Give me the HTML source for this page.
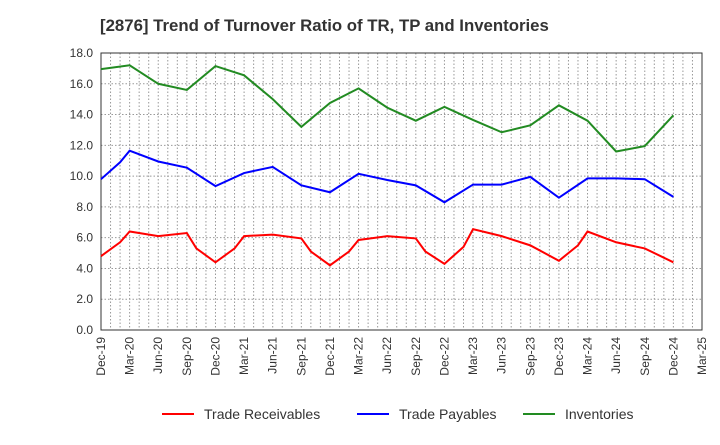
<!DOCTYPE html>
<html><head><meta charset="utf-8"><style>
body{margin:0;background:#fff;font-family:"Liberation Sans",sans-serif}
</style></head><body>
<svg id="chart" width="720" height="440" xmlns="http://www.w3.org/2000/svg" font-family="Liberation Sans, sans-serif">
<text x="100" y="31" font-size="16.8" font-weight="bold" fill="#333">[2876]  Trend of Turnover Ratio of TR, TP and Inventories</text>
<g id="grid"></g><g id="axes"></g><g id="series"></g><g id="legend"></g>
</svg>
<script>
const xLabels=["Dec-19","Mar-20","Jun-20","Sep-20","Dec-20","Mar-21","Jun-21","Sep-21","Dec-21","Mar-22","Jun-22","Sep-22","Dec-22","Mar-23","Jun-23","Sep-23","Dec-23","Mar-24","Jun-24","Sep-24","Dec-24","Mar-25"];
const yTicks=[0,2,4,6,8,10,12,14,16,18];
const trMonths=[0,2,3,6,9,10,12,14,15,18,21,22,24,26,27,30,33,34,36,38,39,42,45,48,50,51,54,57,60];
const trValues=[4.8,5.7,6.4,6.1,6.3,5.3,4.4,5.3,6.1,6.2,5.95,5.1,4.2,5.1,5.85,6.1,5.95,5.1,4.3,5.4,6.55,6.1,5.5,4.5,5.5,6.4,5.7,5.3,4.4];
const tpMonths=[0,2,3,6,9,12,15,18,21,24,27,30,33,36,39,42,45,48,51,54,57,60];
const tpValues=[9.8,10.9,11.65,10.95,10.55,9.35,10.2,10.6,9.4,8.95,10.15,9.75,9.4,8.3,9.45,9.45,9.95,8.6,9.85,9.85,9.8,8.65];
const invMonths=[0,3,6,9,12,15,18,21,24,27,30,33,36,39,42,45,48,51,54,57,60];
const invValues=[16.95,17.2,16.0,15.6,17.15,16.55,15.0,13.2,14.75,15.7,14.45,13.6,14.5,13.65,12.85,13.3,14.6,13.6,11.6,11.95,13.95];
const L=101,R=702,T=53,B=330,NM=63,YMAX=18;
const xs=m=>L+(R-L)*m/NM, ys=v=>B-(B-T)*v/YMAX;
const NS="http://www.w3.org/2000/svg";
function mk(t,a,p){const e=document.createElementNS(NS,t);for(const k in a)e.setAttribute(k,a[k]);p.appendChild(e);return e;}
const grid=document.getElementById('grid'),axes=document.getElementById('axes'),ser=document.getElementById('series'),leg=document.getElementById('legend');
for(let m=1;m<NM;m++){const l=mk('line',{x1:xs(m),x2:xs(m),y1:T,y2:B,stroke:'#999','stroke-dasharray':'1.5,2','stroke-width':1},grid);

}
yTicks.forEach(v=>{if(v>0&&v<YMAX){const l=mk('line',{x1:L,x2:R,y1:ys(v),y2:ys(v),stroke:'#999','stroke-dasharray':'1.5,2','stroke-width':1},grid);

}
const t=mk('text',{x:L-8,y:ys(v)+4,'text-anchor':'end','font-size':12,fill:'#333'},axes);t.textContent=v.toFixed(1);

});
xLabels.forEach((s,i)=>{const x=xs(i*3);const t=mk('text',{transform:`translate(${x+4},${B+7}) rotate(-90)`,'text-anchor':'end','font-size':12,fill:'#333'},axes);t.textContent=s;

});
const fr=mk('rect',{x:L,y:T,width:R-L,height:B-T,fill:'none',stroke:'#333','stroke-width':1},axes);


function line(ms,vs,c,name){const p=mk('polyline',{points:ms.map((m,i)=>xs(m)+','+ys(vs[i])).join(' '),fill:'none',stroke:c,'stroke-width':2},ser);

}
line(trMonths,trValues,'#ff0000','trade-receivables-line');
line(tpMonths,tpValues,'#0000ff','trade-payables-line');
line(invMonths,invValues,'#228b22','inventories-line');
[['Trade Receivables','#ff0000',162],['Trade Payables','#0000ff',357],['Inventories','#228b22',523]].forEach(([n,c,x])=>{
const g=mk('g',{},leg);


mk('line',{x1:x,x2:x+32,y1:414,y2:414,stroke:c,'stroke-width':2},g);
const t=mk('text',{x:x+42,y:419,'font-size':14,fill:'#333'},g);t.textContent=n;});
</script>
</body></html>
